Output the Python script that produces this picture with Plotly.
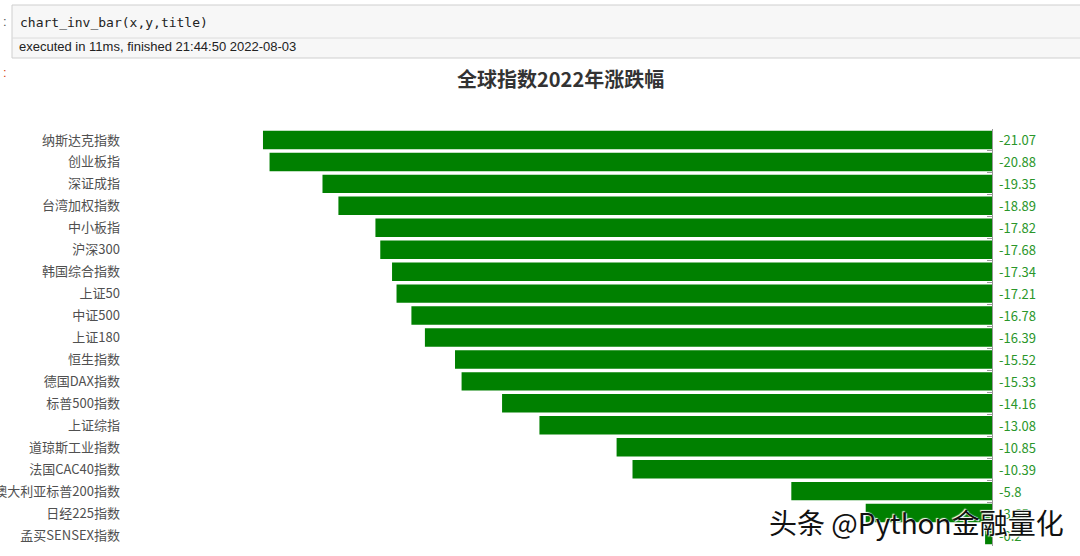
import plotly.graph_objects as go

# 全球指数2022年涨跌幅 (%)
names = ["纳斯达克指数", "创业板指", "深证成指", "台湾加权指数", "中小板指", "沪深300",
         "韩国综合指数", "上证50", "中证500", "上证180", "恒生指数", "德国DAX指数",
         "标普500指数", "上证综指", "道琼斯工业指数", "法国CAC40指数",
         "澳大利亚标普200指数", "日经225指数", "孟买SENSEX指数"]
changes = [-21.07, -20.88, -19.35, -18.89, -17.82, -17.68, -17.34, -17.21, -16.78,
           -16.39, -15.52, -15.33, -14.16, -13.08, -10.85, -10.39, -5.8, -3.65, -0.2]
title = "全球指数2022年涨跌幅"

W, H = 1080, 556
L, R, T, B = 127, 88, 129, 10


def px_x(px):
    return (px - L) / (W - L - R)


def px_y(py):
    return (H - B - py) / (H - T - B)


fig = go.Figure()
fig.add_trace(go.Bar(x=changes, y=names, orientation="h",
                     marker=dict(color="#008000", line=dict(width=0)),
                     hoverinfo="x+y", showlegend=False))
# tick axis on the zero line
fig.add_trace(go.Scatter(x=[None], y=[None], yaxis="y2", showlegend=False, hoverinfo="skip"))

# value labels right of the zero line
for name, v in zip(names, changes):
    fig.add_annotation(x=0, y=name, text=str(v), showarrow=False, xanchor="left",
                       xshift=5, font=dict(color="#2a962a", size=13, family="Noto Sans CJK SC"))

n = len(names)
fig.update_layout(
    width=W, height=H,
    margin=dict(l=L, r=R, t=T, b=B, autoexpand=False),
    paper_bgcolor="white", plot_bgcolor="white",
    bargap=0.16,
    font=dict(family="Noto Sans CJK SC"),
    xaxis=dict(range=[-25, 0], showgrid=False, zeroline=False, showticklabels=False,
               showline=False, fixedrange=True, automargin=False),
    yaxis=dict(autorange=False, range=[n - 0.5, -0.5], showgrid=False, zeroline=False,
               showline=False, ticks="", tickfont=dict(size=13, color="#505050"),
               ticklabelstandoff=6, automargin=False),
    yaxis2=dict(overlaying="y", side="right", anchor="x", range=[n - 0.5, -0.5],
                showline=True, linecolor="#999", linewidth=1, ticks="inside",
                ticklen=5, tickcolor="#999", tickvals=[i - 0.5 for i in range(n)],
                showticklabels=False, showgrid=False, zeroline=False, automargin=False),
)

# notebook cell frame
fig.add_shape(type="rect", xref="paper", yref="paper",
              x0=px_x(12), x1=px_x(1082), y0=px_y(58), y1=px_y(5),
              fillcolor="#f7f7f7", line=dict(color="#cfcfcf", width=1), layer="below")
fig.add_shape(type="line", xref="paper", yref="paper",
              x0=px_x(12), x1=px_x(1082), y0=px_y(38), y1=px_y(38),
              line=dict(color="#dcdcdc", width=1))

annos = [
    dict(x=px_x(18), y=px_y(22), text="chart_inv_bar(x,y,title)", xanchor="left",
         font=dict(family="DejaVu Sans Mono", size=13, color="#222")),
    dict(x=px_x(17), y=px_y(47), text="executed in 11ms, finished 21:44:50 2022-08-03",
         xanchor="left", font=dict(family="Liberation Sans", size=13, color="#222")),
    dict(x=px_x(1), y=px_y(21), text=":", xanchor="left",
         font=dict(family="Liberation Sans", size=13, color="#555")),
    dict(x=px_x(1), y=px_y(73), text=":", xanchor="left",
         font=dict(family="Liberation Sans", size=13, color="#d84315")),
    dict(x=px_x(560), y=px_y(78), text="<b>" + title + "</b>", xanchor="center",
         font=dict(family="Noto Sans CJK SC", size=20, color="#333")),
    dict(x=px_x(1066), y=px_y(522), text="头条 @Python金融量化", xanchor="right",
         font=dict(family="Noto Sans CJK SC", size=28, color="#111",
                   shadow="1px 1px 1px white, -1px -1px 1px white")),
]
for a in annos:
    fig.add_annotation(xref="paper", yref="paper", showarrow=False, yanchor="middle", **a)

fig.write_html("out.html", config={"displayModeBar": False},
               post_script="document.body.style.margin='0';")
